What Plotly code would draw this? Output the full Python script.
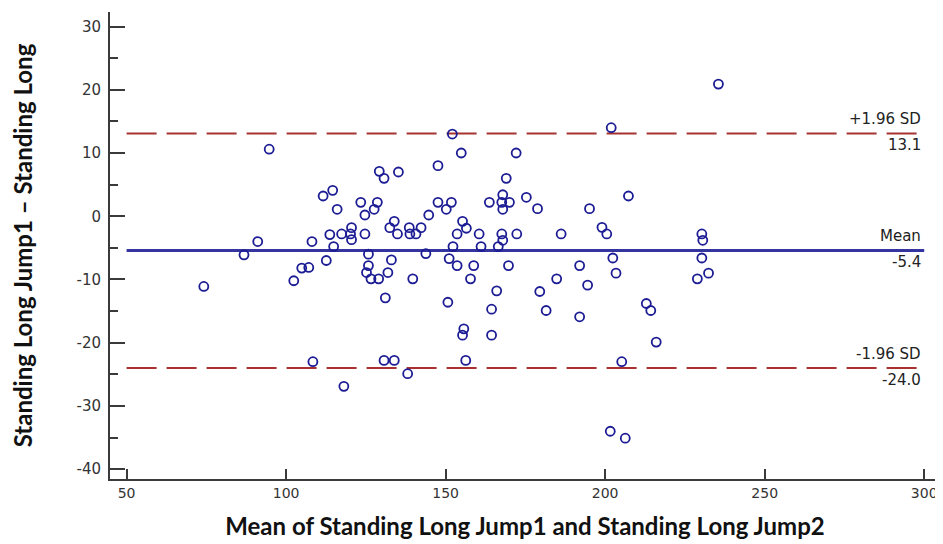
import plotly.graph_objects as go

# Mean of the two jumps (x) and difference Jump1 - Jump2 (y)
mean_jump = [
    74.2, 86.8, 91.1, 94.7, 102.4, 104.9, 107.1, 108.1, 108.4, 111.6, 112.6, 113.7, 114.6,
    152.1, 154.9, 172.1, 147.6, 129.2, 130.7, 135.2, 169.0, 175.3, 167.9, 167.6, 170.0,
    163.7, 167.9, 178.8, 123.4, 128.6, 127.6, 124.7, 116.0, 147.6, 151.8, 150.2, 144.7,
    133.9, 155.3, 156.5, 132.5, 138.6, 142.3, 120.5, 117.4, 120.2, 124.7, 134.9, 138.8,
    140.7, 153.6, 160.5, 167.6, 172.3, 120.5, 114.9, 152.3, 161.1, 166.5, 167.9, 125.8,
    143.8, 151.1, 133.0, 125.8, 153.6, 158.8, 169.7, 125.2, 131.9, 126.6, 129.0, 139.7,
    157.8, 166.0, 179.5, 131.1, 150.7, 164.4,
    155.7, 155.3, 164.4, 130.7, 133.9, 156.3, 138.1, 118.1,
    235.5, 201.9, 207.3, 195.1, 186.2, 199.0, 200.5, 230.3, 230.6, 202.4, 230.3,
    192.0, 203.4, 184.8, 194.5, 232.4, 228.9, 181.5, 192.0, 212.9, 214.3, 216.0, 205.2,
    201.6, 206.3,
]
diff_jump = [
    -11.1, -6.1, -4.0, 10.6, -10.2, -8.2, -8.1, -4.0, -23.0, 3.2, -7.0, -2.9, 4.1,
    13.0, 10.0, 10.0, 8.0, 7.1, 6.0, 7.0, 6.0, 3.0, 3.4, 2.2, 2.2,
    2.2, 1.1, 1.2, 2.2, 2.2, 1.1, 0.2, 1.1, 2.2, 2.2, 1.1, 0.2,
    -0.8, -0.8, -1.9, -1.8, -1.8, -1.8, -1.8, -2.8, -2.8, -2.8, -2.8, -2.8,
    -2.8, -2.8, -2.8, -2.8, -2.8, -3.7, -4.8, -4.8, -4.8, -4.8, -3.8, -6.0,
    -5.9, -6.7, -6.9, -7.8, -7.8, -7.8, -7.8, -8.9, -8.9, -9.9, -9.9, -9.9,
    -9.9, -11.8, -11.9, -12.9, -13.6, -14.7,
    -17.8, -18.8, -18.8, -22.8, -22.8, -22.8, -24.9, -26.9,
    20.9, 14.0, 3.2, 1.2, -2.8, -1.75, -2.8, -2.8, -3.8, -6.6, -6.6,
    -7.8, -9.0, -9.9, -10.9, -9.0, -9.9, -14.9, -15.9, -13.8, -14.9, -19.9, -23.0,
    -34.0, -35.1,
]

mean_diff = -5.4
upper_loa = 13.1
lower_loa = -24.0
line_x = [50, 300]

x_ticks = [50, 100, 150, 200, 250, 300]
x_ticktext = ["50", "100", "150", "200", "250", "300"]
y_ticks = [-40, -30, -20, -10, 0, 10, 20, 30]
y_ticktext = ["-40", "-30", "-20", "-10", "0", "10", "20", "30"]

axis_col = "#3a3a3a"
red = "#a83232"
blue = "#3535a0"
marker_col = "#1c1c94"

fig = go.Figure()

fig.add_trace(go.Scatter(x=line_x, y=[upper_loa] * 2, mode="lines",
                         line=dict(color=red, width=2, dash="30px,10px"),
                         hoverinfo="skip", showlegend=False))
fig.add_trace(go.Scatter(x=line_x, y=[lower_loa] * 2, mode="lines",
                         line=dict(color=red, width=2, dash="30px,10px"),
                         hoverinfo="skip", showlegend=False))
fig.add_trace(go.Scatter(x=line_x, y=[mean_diff] * 2, mode="lines",
                         line=dict(color=blue, width=3),
                         hoverinfo="skip", showlegend=False))
fig.add_trace(go.Scatter(x=mean_jump, y=diff_jump, mode="markers",
                         marker=dict(symbol="circle-open", size=9, color=marker_col,
                                     line=dict(color=marker_col, width=1.8)),
                         showlegend=False))

ann_font = dict(family="DejaVu Sans", size=15, color="#222222")
labels = [
    (upper_loa, "+1.96 SD", "{:.1f}".format(upper_loa)),
    (mean_diff, "Mean", "{:.1f}".format(mean_diff)),
    (lower_loa, "-1.96 SD", "{:.1f}".format(lower_loa)),
]
for yv, above, below in labels:
    fig.add_annotation(x=299.5, y=yv, text=above, showarrow=False,
                       xanchor="right", yanchor="bottom", yshift=3, font=ann_font)
    fig.add_annotation(x=299.5, y=yv, text=below, showarrow=False,
                       xanchor="right", yanchor="top", yshift=-1, font=ann_font)

# The page body adds an 8px offset, so the figure is sized to fit the window.
fig.update_layout(
    width=935, height=536,
    margin=dict(l=102, r=3, t=4, b=65),
    plot_bgcolor="white", paper_bgcolor="white",
    xaxis=dict(
        range=[44.8, 304.95], tickvals=x_ticks, ticktext=x_ticktext,
        ticks="inside", ticklen=10, ticklabeloverflow="allow", automargin=False,
        tickwidth=2, tickcolor=axis_col, showline=True, linecolor=axis_col,
        linewidth=2, showgrid=False, zeroline=False,
        tickfont=dict(family="DejaVu Sans", size=14, color="#333333"),
        title=dict(text="Mean of Standing Long Jump1 and Standing Long Jump2",
                   font=dict(family="Lato", size=24, color="#111111", weight="bold"),
                   standoff=18),
    ),
    yaxis=dict(
        range=[-41.55, 32.3], tickvals=y_ticks, ticktext=y_ticktext,
        ticks="inside", ticklen=15, automargin=False,
        tickwidth=2, tickcolor=axis_col, showline=True, linecolor=axis_col,
        linewidth=2, showgrid=False, zeroline=False,
        minor=dict(dtick=5, ticks="inside", ticklen=8, tickwidth=2, tickcolor=axis_col),
        tickfont=dict(family="DejaVu Sans", size=15, color="#333333"),
        ticklabelstandoff=4,
        title=dict(text="Standing Long Jump1 \u2013 Standing Long",
                   font=dict(family="Lato", size=24, color="#111111", weight="bold"),
                   standoff=40),
    ),
)

fig.write_html("out.html")
